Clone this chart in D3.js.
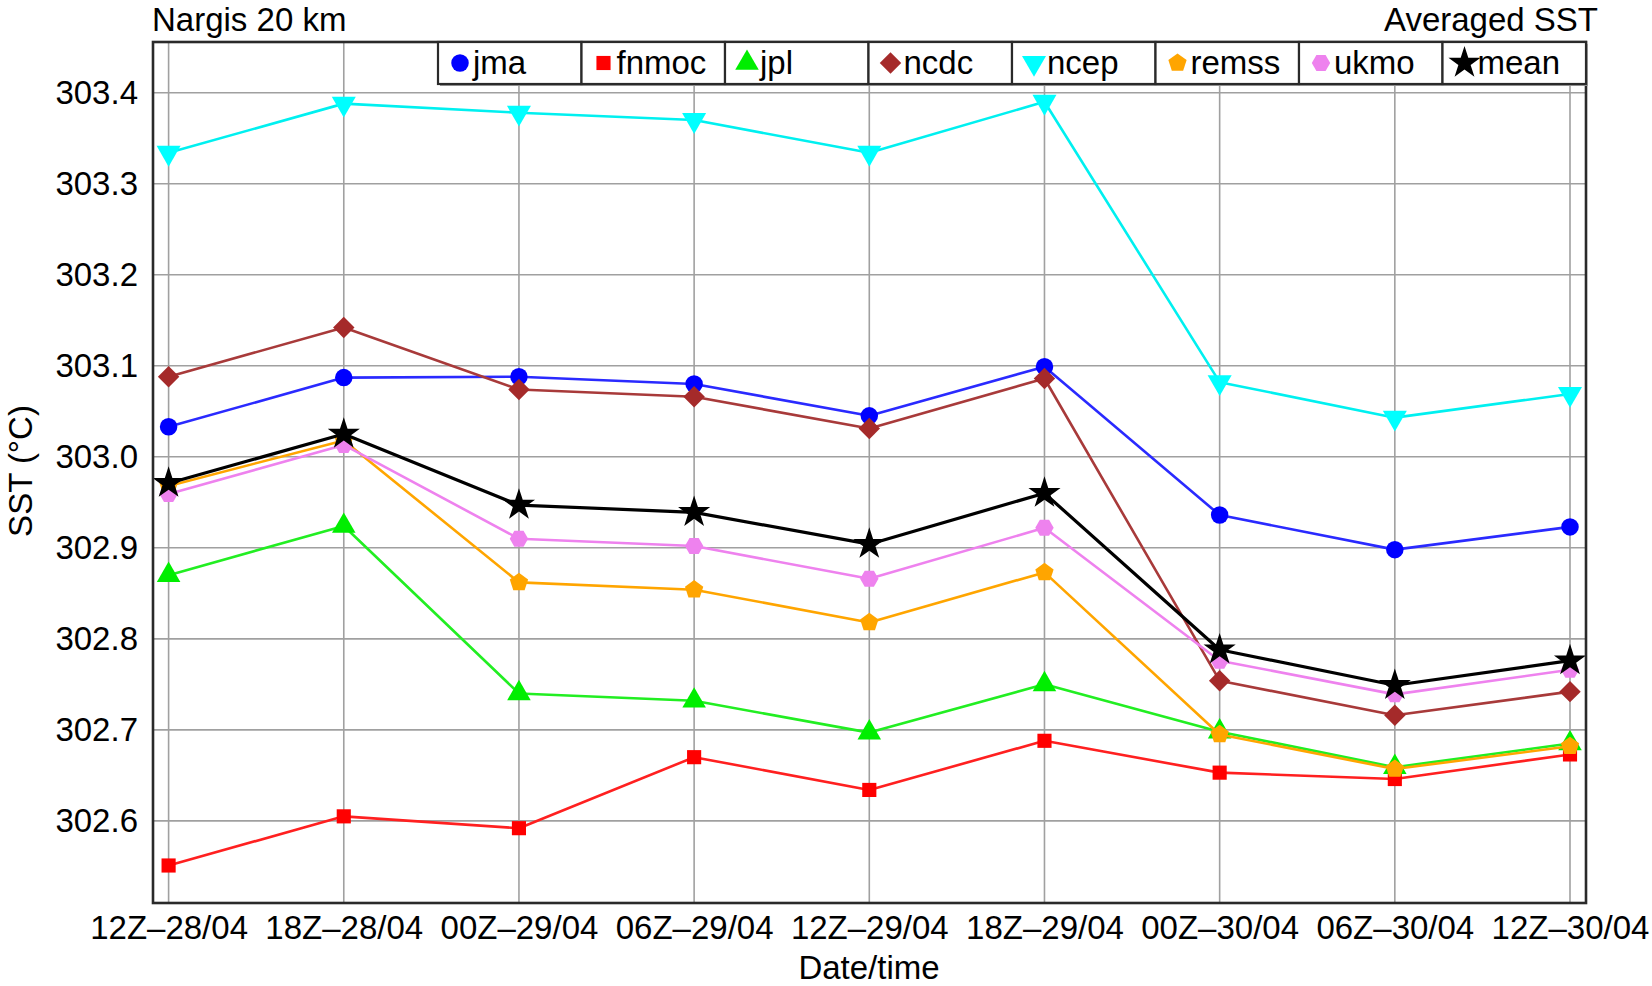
<!DOCTYPE html>
<html>
<head>
<meta charset="utf-8">
<script src="https://cdn.jsdelivr.net/npm/d3@7"></script>
<style>
  html, body { margin: 0; padding: 0; background: #fff; }
  svg { display: block; font-family: "Liberation Sans", Arial, sans-serif; }
</style>
</head>
<body>
<svg id="chart" width="1652" height="986"></svg>
<script>
// values
var times = ["12Z\u201328/04", "18Z\u201328/04", "00Z\u201329/04", "06Z\u201329/04", "12Z\u201329/04",
             "18Z\u201329/04", "00Z\u201330/04", "06Z\u201330/04", "12Z\u201330/04"];

var jma   = [303.033, 303.087, 303.088, 303.080, 303.045, 303.099, 302.936, 302.898, 302.923];
var fnmoc = [302.551, 302.605, 302.592, 302.670, 302.634, 302.688, 302.653, 302.646, 302.673];
var jpl   = [302.870, 302.924, 302.740, 302.732, 302.697, 302.750, 302.698, 302.659, 302.685];
var ncdc  = [303.088, 303.142, 303.074, 303.066, 303.031, 303.086, 302.754, 302.716, 302.742];
var ncep  = [303.334, 303.388, 303.378, 303.370, 303.334, 303.390, 303.082, 303.043, 303.069];
var remss = [302.968, 303.018, 302.862, 302.854, 302.818, 302.873, 302.695, 302.657, 302.682];
var ukmo  = [302.959, 303.013, 302.910, 302.902, 302.866, 302.922, 302.776, 302.739, 302.766];
var mean  = [302.971, 303.025, 302.947, 302.939, 302.904, 302.960, 302.788, 302.749, 302.776];

var seriesNames = ["jma", "fnmoc", "jpl", "ncdc", "ncep", "remss", "ukmo", "mean"];
var yTicks = [302.6, 302.7, 302.8, 302.9, 303.0, 303.1, 303.2, 303.3, 303.4];

var fontSize = 33;

// polygon symbol with n corners, first corner pointing up
function polygon(n, rot) {
    return {
        draw: function (context, size) {
            var r = Math.sqrt(size / (0.5 * n * Math.sin(2 * Math.PI / n)));
            for (var i = 0; i < n; ++i) {
                var a = rot + i * 2 * Math.PI / n - Math.PI / 2;
                if (i === 0) context.moveTo(r * Math.cos(a), r * Math.sin(a));
                else context.lineTo(r * Math.cos(a), r * Math.sin(a));
            }
            context.closePath();
        }
    };
}

var styles = {
    jma:   { color: "#0000ff", line: "#2a2aff", symbol: d3.symbolCircle, size: 240, rotate: 0, width: 2.6 },
    fnmoc: { color: "#ff0000", line: "#ff2020", symbol: d3.symbolSquare, size: 200, rotate: 0, width: 2.6 },
    jpl:   { color: "#00ee00", line: "#22ee22", symbol: d3.symbolTriangle, size: 240, rotate: 0, width: 2.6 },
    ncdc:  { color: "#a52a2a", line: "#a83a3a", symbol: d3.symbolSquare, size: 230, rotate: 45, width: 2.6 },
    ncep:  { color: "#00ffff", line: "#00f0f0", symbol: d3.symbolTriangle, size: 250, rotate: 180, width: 2.6 },
    remss: { color: "#ffa500", line: "#ffa500", symbol: polygon(5, 0), size: 220, rotate: 0, width: 2.6 },
    ukmo:  { color: "#ee82ee", line: "#ee82ee", symbol: polygon(6, Math.PI / 6), size: 220, rotate: 0, width: 2.6 },
    mean:  { color: "#000000", line: "#000000", symbol: d3.symbolStar, size: 320, rotate: 0, width: 3.2 }
};

var data = { jma: jma, fnmoc: fnmoc, jpl: jpl, ncdc: ncdc, ncep: ncep, remss: remss, ukmo: ukmo, mean: mean };

var plot = { left: 153, right: 1586, top: 42, bottom: 903 };

var svg = d3.select("#chart");

var x = d3.scalePoint()
    .domain(times)
    .range([168.6, 1570]);

var y = d3.scaleLinear()
    .domain([302.5098, 303.4557])
    .range([plot.bottom, plot.top]);

// grid
var grid = svg.append("g").attr("class", "grid");

grid.selectAll("line.gx")
    .data(times)
    .enter().append("line")
      .attr("class", "gx")
      .attr("x1", d => x(d)).attr("x2", d => x(d))
      .attr("y1", plot.top).attr("y2", plot.bottom)
      .attr("stroke", "#a0a0a0")
      .attr("stroke-width", 1.6);

grid.selectAll("line.gy")
    .data(yTicks)
    .enter().append("line")
      .attr("class", "gy")
      .attr("x1", plot.left).attr("x2", plot.right)
      .attr("y1", d => y(d)).attr("y2", d => y(d))
      .attr("stroke", "#a0a0a0")
      .attr("stroke-width", 1.6);

// axes (labels only, no tick marks)
var yAxis = d3.axisLeft(y)
    .tickValues(yTicks)
    .tickFormat(d3.format(".1f"))
    .tickSize(0)
    .tickPadding(15);

svg.append("g")
    .attr("transform", `translate(${plot.left},0)`)
    .call(yAxis)
    .call(g => g.select(".domain").remove())
    .selectAll("text")
      .attr("font-size", fontSize)
      .attr("font-family", "Liberation Sans, Arial, sans-serif")
      .attr("fill", "#000");

var xAxis = d3.axisBottom(x)
    .tickSize(0)
    .tickPadding(13);

svg.append("g")
    .attr("transform", `translate(0,${plot.bottom})`)
    .call(xAxis)
    .call(g => g.select(".domain").remove())
    .selectAll("text")
      .attr("font-size", fontSize)
      .attr("font-family", "Liberation Sans, Arial, sans-serif")
      .attr("fill", "#000");

// series
var line = d3.line()
    .x((d, i) => x(times[i]))
    .y(d => y(d));

seriesNames.forEach(function (name) {
    var st = styles[name];
    var g = svg.append("g").attr("class", "series " + name);

    g.append("path")
        .datum(data[name])
        .attr("d", line)
        .attr("fill", "none")
        .attr("stroke", st.line)
        .attr("stroke-width", st.width)
        .attr("stroke-linejoin", "round");

    g.selectAll("path.mark")
        .data(data[name])
        .enter().append("path")
          .attr("class", "mark")
          .attr("d", d3.symbol().type(st.symbol).size(st.size))
          .attr("transform", (d, i) => `translate(${x(times[i])},${y(d)}) rotate(${st.rotate})`)
          .attr("fill", st.color);
});

// frame
svg.append("rect")
    .attr("x", plot.left)
    .attr("y", plot.top)
    .attr("width", plot.right - plot.left)
    .attr("height", plot.bottom - plot.top)
    .attr("fill", "none")
    .attr("stroke", "#2a2a2a")
    .attr("stroke-width", 2.6);

// legend
var legend = { left: 438, right: 1586, top: 42, bottom: 84 };
var cellW = (legend.right - legend.left) / seriesNames.length;

var lg = svg.append("g").attr("class", "legend");

lg.append("rect")
    .attr("x", legend.left + 2)
    .attr("y", legend.top + 2)
    .attr("width", legend.right - legend.left)
    .attr("height", legend.bottom - legend.top)
    .attr("fill", "#9a9a9a");

var cells = lg.selectAll("g.cell")
    .data(seriesNames)
    .enter().append("g")
      .attr("class", "cell")
      .attr("transform", (d, i) => `translate(${legend.left + i * cellW},${legend.top})`);

cells.append("rect")
    .attr("width", cellW)
    .attr("height", legend.bottom - legend.top)
    .attr("fill", "#fff")
    .attr("stroke", "#2a2a2a")
    .attr("stroke-width", 2.2);

cells.append("path")
    .attr("d", d => d3.symbol().type(styles[d].symbol).size(styles[d].size)())
    .attr("transform", d => `translate(22,${(legend.bottom - legend.top) / 2}) rotate(${styles[d].rotate})`)
    .attr("fill", d => styles[d].color);

cells.append("text")
    .attr("x", 35)
    .attr("y", 32)
    .attr("font-size", fontSize)
    .attr("fill", "#000")
    .text(d => d);

// titles
svg.append("text")
    .attr("x", 152)
    .attr("y", 31)
    .attr("font-size", fontSize)
    .text("Nargis 20 km");

svg.append("text")
    .attr("x", 1598)
    .attr("y", 31)
    .attr("text-anchor", "end")
    .attr("font-size", fontSize)
    .text("Averaged SST");

svg.append("text")
    .attr("transform", "translate(32,471) rotate(-90)")
    .attr("text-anchor", "middle")
    .attr("font-size", fontSize)
    .text("SST (\u00b0C)");

svg.append("text")
    .attr("x", 869)
    .attr("y", 979)
    .attr("text-anchor", "middle")
    .attr("font-size", fontSize)
    .text("Date/time");
</script>
</body>
</html>
